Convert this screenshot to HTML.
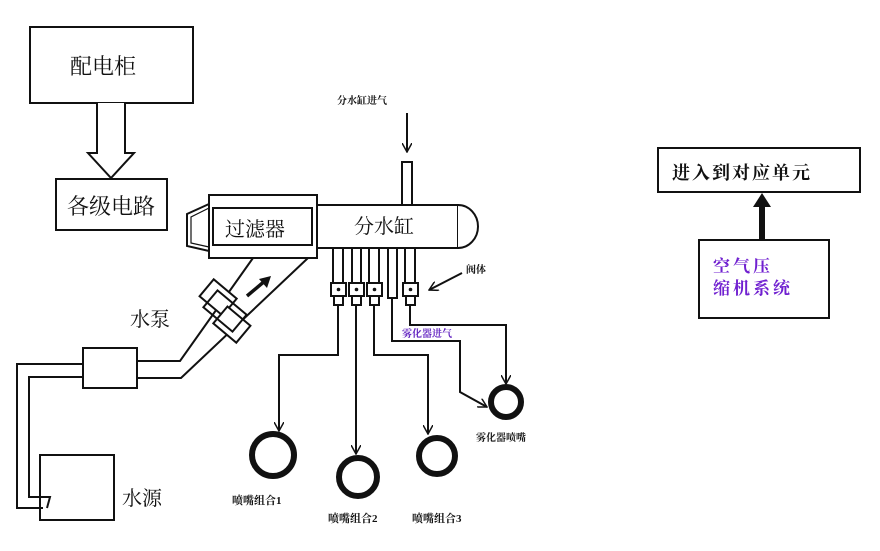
<!DOCTYPE html>
<html><head><meta charset="utf-8"><style>
body{margin:0;background:#fff}
svg{display:block}
text{font-family:"Liberation Serif","Noto Serif CJK SC","Noto Sans CJK SC",serif;fill:#111}
</style></head><body>
<svg width="880" height="551" viewBox="0 0 880 551" xmlns="http://www.w3.org/2000/svg">
<defs>
<marker id="ah" markerWidth="10" markerHeight="10" refX="9" refY="5" orient="auto" markerUnits="userSpaceOnUse">
<path d="M0,0 L9,5 L0,10" fill="none" stroke="#111" stroke-width="1.5"/>
</marker>
</defs>
<g stroke="#111" stroke-width="2" fill="#fff">
<rect x="30" y="27" width="163" height="76"/>
<path d="M97,103 V153 H88 L111,178 L134,153 H125 V103"/>
<rect x="56" y="179" width="111" height="51"/>
<path d="M209,204 L187,214 L187,246 L209,251 Z"/>
<path d="M209,208 L191,217 L191,243 L209,247" fill="none" stroke-width="1.2"/>
<rect x="209" y="195" width="108" height="63"/>
<rect x="213" y="208" width="99" height="37"/>
<rect x="317" y="205" width="141" height="43"/>
<path d="M458,205 A20,21.5 0 0 1 458,248"/>
<rect x="402" y="162" width="10" height="43"/>
<rect x="333" y="248" width="10" height="35"/>
<rect x="352" y="248" width="9" height="35"/>
<rect x="369" y="248" width="10" height="35"/>
<rect x="388" y="248" width="9" height="50"/>
<rect x="405" y="248" width="10" height="35"/>
<rect x="331" y="283" width="15" height="13"/><rect x="334" y="296" width="9" height="9"/>
<rect x="349" y="283" width="15" height="13"/><rect x="352" y="296" width="9" height="9"/>
<rect x="367" y="283" width="15" height="13"/><rect x="370" y="296" width="9" height="9"/>
<rect x="403" y="283" width="15" height="13"/><rect x="406" y="296" width="9" height="9"/>
</g>
<g fill="#111">
<circle cx="338.5" cy="289.5" r="1.8"/><circle cx="356.5" cy="289.5" r="1.8"/><circle cx="374.5" cy="289.5" r="1.8"/><circle cx="410.5" cy="289.5" r="1.8"/>
</g>
<g stroke="#111" stroke-width="2" fill="none">
<path d="M338,305 V355 H279 V431" marker-end="url(#ah)"/>
<path d="M356,305 V454" marker-end="url(#ah)"/>
<path d="M374,305 V355 H428 V434" marker-end="url(#ah)"/>
<path d="M392,298 V341 H460 V392 L487,407" marker-end="url(#ah)"/>
<path d="M410,305 V325 H506 V384" marker-end="url(#ah)"/>
<path d="M407,113 V152" marker-end="url(#ah)"/>
<path d="M462,273 L429,290" marker-end="url(#ah)"/>
</g>
<g stroke="#111" stroke-width="6" fill="none">
<circle cx="273" cy="455" r="21"/>
<circle cx="358" cy="477" r="19"/>
<circle cx="437" cy="456" r="18"/>
<circle cx="506" cy="402" r="15"/>
</g>
<g stroke="#111" stroke-width="2" fill="none">
<path d="M253,258 L180,361 H137"/>
<path d="M308,258 L181,378 H137"/>
<path d="M83,364 H17 V508 H43"/>
<path d="M83,377 H29 V497 H50 L47,508"/>
</g>
<g stroke="#111" stroke-width="2" fill="#fff">
<rect x="83" y="348" width="54" height="40"/>
<g transform="rotate(40 225 311)">
<rect x="196" y="294" width="30" height="22"/>
<rect x="224" y="306" width="30" height="22"/>
<rect x="206" y="300" width="38" height="22" fill="none"/>
</g>
</g>
<rect x="40" y="455" width="74" height="65" fill="none" stroke="#111" stroke-width="2"/>
<path d="M247,296 L266,280" stroke="#111" stroke-width="3.5"/>
<path d="M271,276 L259,279 L267,288 Z" fill="#111"/>
<rect x="658" y="148" width="202" height="44" fill="#fff" stroke="#111" stroke-width="2"/>
<rect x="699" y="240" width="130" height="78" fill="#fff" stroke="#111" stroke-width="2"/>
<path d="M762,240 V205" stroke="#111" stroke-width="6"/>
<path d="M753,207 L762,193 L771,207 Z" fill="#111"/>
<text x="70" y="74" font-size="22">配电柜</text>
<text x="67" y="214" font-size="22">各级电路</text>
<text x="225" y="236" font-size="20">过滤器</text>
<text x="354" y="233" font-size="20">分水缸</text>
<text x="130" y="326" font-size="20">水泵</text>
<text x="122" y="505" font-size="20">水源</text>
<text x="337" y="104" font-size="10" font-weight="bold">分水缸进气</text>
<text x="466" y="273" font-size="10" font-weight="bold">阀体</text>
<text x="402" y="337" font-size="10" font-weight="bold" style="fill:#6020c0">雾化器进气</text>
<text x="476" y="441" font-size="10" font-weight="bold">雾化器喷嘴</text>
<text x="232" y="504" font-size="11" font-weight="bold">喷嘴组合1</text>
<text x="328" y="522" font-size="11" font-weight="bold">喷嘴组合2</text>
<text x="412" y="522" font-size="11" font-weight="bold">喷嘴组合3</text>
<text x="672" y="179" font-size="18" font-weight="bold" letter-spacing="2">进入到对应单元</text>
<text x="713" y="272" font-size="17" font-weight="bold" letter-spacing="3" style="fill:#7020d0">空气压</text>
<text x="713" y="294" font-size="17" font-weight="bold" letter-spacing="3" style="fill:#7020d0">缩机系统</text>
</svg>
</body></html>
